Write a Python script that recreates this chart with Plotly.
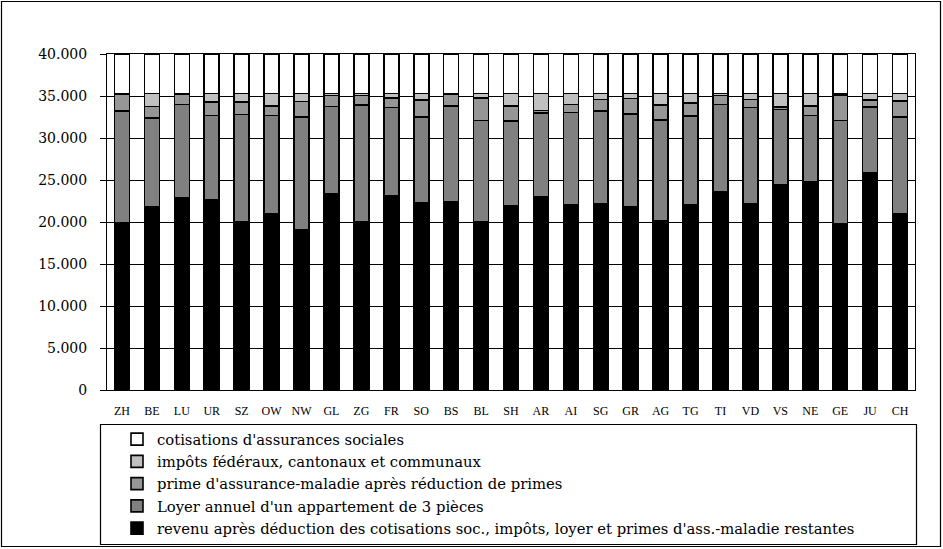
import plotly.graph_objects as go

# Cantons (CH = Swiss average)
cantons = ["ZH", "BE", "LU", "UR", "SZ", "OW", "NW", "GL", "ZG", "FR", "SO", "BS", "BL", "SH",
           "AR", "AI", "SG", "GR", "AG", "TG", "TI", "VD", "VS", "NE", "GE", "JU", "CH"]

# Annual amounts in CHF, stacked from the bottom up
revenu = [19900, 21800, 22900, 22700, 20000, 21000, 19100, 23400, 20000, 23100, 22300, 22400, 20000, 21900,
          23000, 22100, 22200, 21800, 20100, 22100, 23600, 22200, 24400, 24800, 19800, 25900, 21000]
loyer = [13300, 10600, 11100, 9980, 12780, 11660, 13380, 10330, 13910, 10510, 10220, 11410, 12100, 10160,
         10000, 10940, 11010, 11080, 12040, 10540, 10370, 11430, 8990, 7880, 12300, 7790, 11520]
prime = [2000, 1330, 1250, 1590, 1490, 1150, 1865, 1350, 1170, 1130, 2020, 1440, 2660, 1750,
         280, 970, 1370, 1800, 1810, 1530, 1110, 950, 320, 1130, 3000, 870, 1860]
impots = [100, 1570, 50, 1030, 1030, 1490, 955, 220, 220, 560, 760, 50, 540, 1490,
          2020, 1290, 720, 620, 1350, 1130, 220, 720, 1590, 1490, 200, 740, 920]
cotisations = [4700] * len(cantons)

y_ticks = [0, 5000, 10000, 15000, 20000, 25000, 30000, 35000, 40000]

series = [
    ("revenu après déduction des cotisations soc., impôts, loyer et primes d'ass.-maladie restantes", revenu, "#000000"),
    ("Loyer annuel d'un appartement de 3 pièces", loyer, "#808080"),
    ("prime d'assurance-maladie après réduction de primes", prime, "#969696"),
    ("impôts fédéraux, cantonaux et communaux", impots, "#C0C0C0"),
    ("cotisations d'assurances sociales", cotisations, "#FFFFFF"),
]

W, H = 943, 549
L, R, T, B = 107, 28, 54, 159
pw, ph = W - L - R, H - T - B


def px(x):
    return (x - L) / pw


def py(y):
    return (H - B - y) / ph


fig = go.Figure()
for name, vals, col in series:
    fig.add_trace(go.Bar(
        x=cantons, y=vals, name=name,
        marker=dict(color=col, line=dict(color="#000000", width=1.6)),
    ))

fig.update_layout(
    width=W, height=H,
    margin=dict(l=L, r=R, t=T, b=B, autoexpand=False),
    barmode="stack", bargap=0.5,
    plot_bgcolor="#FFFFFF", paper_bgcolor="#FFFFFF",
    separators=",.",
    font=dict(family="DejaVu Serif", color="#000000"),
    showlegend=True,
    legend=dict(
        orientation="v", traceorder="reversed",
        x=px(117), xanchor="left", y=py(423), yanchor="top",
        font=dict(family="DejaVu Serif", size=14.8, color="#000000"),
        bgcolor="rgba(0,0,0,0)", itemwidth=30,
        tracegroupgap=0,
    ),
    shapes=[
        # outer frame of the chart
        dict(type="rect", xref="paper", yref="paper",
             x0=px(1.5), x1=px(940.5), y0=py(546.5), y1=py(1.5),
             line=dict(color="#000000", width=1.2), fillcolor="rgba(0,0,0,0)", layer="below"),
        # legend box
        dict(type="rect", xref="paper", yref="paper",
             x0=px(100.5), x1=px(916.5), y0=py(544.5), y1=py(424.5),
             line=dict(color="#000000", width=1.2), fillcolor="rgba(0,0,0,0)", layer="below"),
    ],
)

fig.update_xaxes(
    type="category", showline=True, linecolor="#000000", linewidth=1, mirror=True,
    ticks="", showgrid=False,
    tickfont=dict(family="Liberation Serif", size=12, color="#000000"),
    ticklabelstandoff=10,
)
fig.update_yaxes(
    range=[0, 40000], tickvals=y_ticks, tickformat=",d",
    showline=True, linecolor="#000000", linewidth=1, mirror=True,
    ticks="outside", ticklen=6, tickcolor="#000000",
    showgrid=True, gridcolor="#000000", gridwidth=1,
    zeroline=False,
    tickfont=dict(family="DejaVu Serif", size=14, color="#000000"),
    ticklabelstandoff=10,
)

fig.write_html("out.html")
